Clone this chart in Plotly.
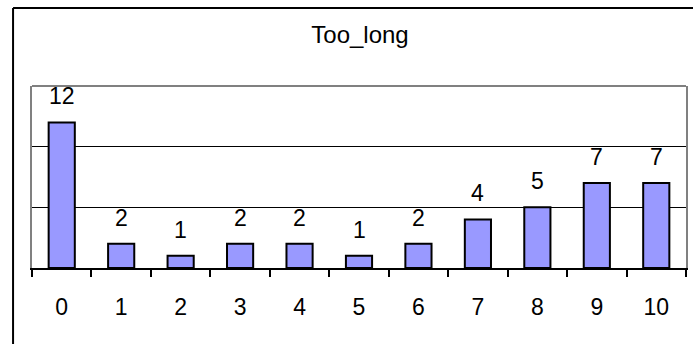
import plotly.graph_objects as go

categories = ["0", "1", "2", "3", "4", "5", "6", "7", "8", "9", "10"]
counts = [12, 2, 1, 2, 2, 1, 2, 4, 5, 7, 7]
title_text = "Too_long"

FONT = "Arial, Liberation Sans, sans-serif"
W, H = 693, 344
ML, MR, MT, MB = 32, 5, 86, 76
pw = W - ML - MR
ph = H - MT - MB

fig = go.Figure()
fig.add_trace(go.Bar(
    x=categories, y=counts,
    marker=dict(color="#9999FF", line=dict(color="black", width=2)),
    hoverinfo="skip",
))

annotations = [
    dict(x=c, y=v, xref="x", yref="y", text=str(v), showarrow=False,
         yanchor="middle", yshift=26, font=dict(family=FONT, size=23, color="black"))
    for c, v in zip(categories, counts)
]

top_px = 8
top_y = (H - MB - top_px) / ph
left_x = (13 - ML) / pw
shapes = [
    dict(type="line", xref="paper", yref="paper", x0=0, x1=1, y0=1, y1=1,
         line=dict(color="#808080", width=2)),
    dict(type="line", xref="paper", yref="paper",
         x0=left_x, x1=left_x, y0=-0.6, y1=top_y,
         line=dict(color="black", width=2)),
    dict(type="line", xref="paper", yref="paper",
         x0=left_x, x1=1.2, y0=top_y, y1=top_y,
         line=dict(color="black", width=2)),
]

fig.update_layout(
    width=W, height=H,
    margin=dict(l=ML, r=MR, t=MT, b=MB, pad=0),
    paper_bgcolor="white", plot_bgcolor="white",
    showlegend=False,
    bargap=0.56,
    title=dict(text=title_text, x=(ML + pw / 2) / W, xanchor="center",
               y=1 - 35 / H, yanchor="middle", yref="container",
               font=dict(family=FONT, size=24, color="black")),
    font=dict(family=FONT, size=23, color="black"),
    annotations=annotations,
    shapes=shapes,
)
fig.update_xaxes(
    type="category", tickson="boundaries", ticks="outside", ticklen=7,
    tickwidth=2, tickcolor="black", showline=True, linecolor="black", linewidth=2,
    showgrid=False, ticklabelstandoff=17,
    tickfont=dict(family=FONT, size=23, color="black"),
)
fig.update_yaxes(
    range=[0, 15], tickvals=[5, 10], showticklabels=False, ticks="",
    showgrid=True, gridcolor="black", gridwidth=1,
    showline=True, linecolor="#808080", linewidth=2, mirror=True,
    zeroline=False,
)

fig.write_html(
    "out.html",
    config={"displayModeBar": False},
    post_script="document.body.style.margin='0';",
)
